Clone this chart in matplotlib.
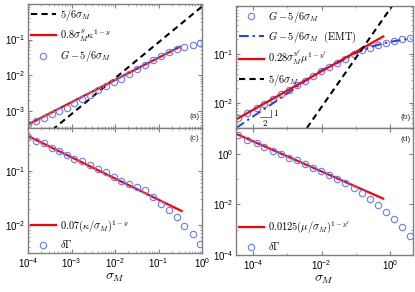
import matplotlib
matplotlib.use("Agg")
import matplotlib.pyplot as plt
from matplotlib.ticker import LogLocator, NullFormatter

plt.rcParams['font.family'] = ['Liberation Sans', 'DejaVu Sans']
plt.rcParams['mathtext.fontset'] = 'cm'

# ---- data ----
# panels (a) and (c): sigma_M sweep
sigma_left = [1.02e-4, 1.51e-4, 2.29e-4, 3.47e-4, 5.25e-4, 7.76e-4, 1.15e-3, 1.78e-3,
              2.69e-3, 4.07e-3, 6.17e-3, 9.33e-3, 1.41e-2, 2.14e-2, 3.24e-2, 4.90e-2,
              7.41e-2, 0.112, 0.170, 0.263, 0.389, 0.617, 0.891]
G_a = [4.27e-4, 5.37e-4, 6.46e-4, 8.13e-4, 1.00e-3, 1.26e-3, 1.66e-3, 2.14e-3,
       2.82e-3, 3.80e-3, 5.13e-3, 6.46e-3, 8.13e-3, 1.12e-2, 1.48e-2, 1.95e-2,
       2.63e-2, 3.55e-2, 4.37e-2, 5.37e-2, 6.31e-2, 7.24e-2, 8.13e-2]
dG_c = [0.423, 0.357, 0.320, 0.265, 0.231, 0.195, 0.164, 0.153, 0.127, 0.106,
        0.0946, 0.0759, 0.0646, 0.0562, 0.0490, 0.0437, 0.0331, 0.0245, 0.0186,
        0.0138, 9.77e-3, 6.92e-3, 4.47e-3]

# panels (b) and (d)
sigma_right = [3.63e-5, 6.46e-5, 1.26e-4, 2.09e-4, 3.72e-4, 6.46e-4, 1.12e-3, 1.86e-3,
               3.24e-3, 5.62e-3, 9.33e-3, 1.62e-2, 2.88e-2, 4.90e-2, 8.91e-2, 0.151,
               0.263, 0.447, 0.759, 1.32, 2.29, 3.80]
G_b = [4.90e-3, 6.17e-3, 7.76e-3, 9.77e-3, 1.20e-2, 1.51e-2, 1.86e-2, 2.34e-2,
       2.88e-2, 3.55e-2, 4.47e-2, 5.50e-2, 6.61e-2, 8.13e-2, 0.100, 0.120,
       0.135, 0.155, 0.170, 0.186, 0.200, 0.209]
dG_d = [5.50, 3.55, 2.63, 1.91, 1.29, 0.955, 0.708, 0.562, 0.380, 0.269, 0.209,
        0.145, 0.100, 0.0676, 0.0457, 0.0275, 0.0162, 9.55e-3, 4.90e-3, 2.57e-3,
        1.23e-3, 5.75e-4]

# EMT curve in (b)
emt_x = [3.16e-5, 1e-4, 3.16e-4, 1e-3, 3.16e-3, 1e-2, 3.16e-2, 0.1, 0.316, 1.0, 4.17]
emt_y = [3.09e-3, 5.37e-3, 9.12e-3, 1.58e-2, 2.75e-2, 4.68e-2, 6.76e-2, 0.105, 0.145, 0.178, 0.209]

# fit lines (end points)
fit_a_x, fit_a_y = [1.0e-4, 0.31], [4.27e-4, 0.063]
fit_b_x, fit_b_y = [3.24e-5, 0.631], [4.68e-3, 0.229]
fit_c_x, fit_c_y = [1.0e-4, 0.34], [0.435, 0.0181]
fit_d_x, fit_d_y = [3.47e-5, 0.631], [5.89, 0.0170]
lin_a_x, lin_a_y = [1e-4, 1.0], [8.33e-5, 0.833]
lin_b_x, lin_b_y = [3.0e-5, 2.0], [2.5e-5, 1.667]

# slope triangle in (b)
tri_x = [1.58e-4, 3.24e-4, 3.24e-4]
tri_y = [5.13e-3, 5.13e-3, 7.24e-3]

circ = dict(ls='none', marker='o', mfc='none', mec='#6a7cf0', ms=4.6, mew=0.8)
red = dict(color='red', lw=1.6)
dash = dict(color='black', lw=1.5, ls=(0, (3, 2)))
spine_c = '#808080'

W, H = 415, 292
fig = plt.figure(figsize=(W / 100, H / 100), dpi=100)


def box(l, t, r, b):
    return [l / W, 1 - b / H, (r - l) / W, (b - t) / H]


ax_a = fig.add_axes(box(28, 4, 202, 128))
ax_c = fig.add_axes(box(28, 128, 202, 253))
ax_b = fig.add_axes(box(236, 6, 413, 128))
ax_d = fig.add_axes(box(236, 128, 413, 255))

# (a)
ax_a.plot(lin_a_x, lin_a_y, label=r'$5/6\sigma_M$', **dash)
ax_a.plot(fit_a_x, fit_a_y, label=r'$0.8\sigma_M^y\kappa^{1-y}$', **red)
ax_a.plot(sigma_left, G_a, label=r'$G-5/6\sigma_M$', **circ)
ax_a.set_ylim(3.4e-4, 0.98)

# (c)
ax_c.plot(fit_c_x, fit_c_y, label=r'$0.07(\kappa/\sigma_M)^{1-y}$', **red)
ax_c.plot(sigma_left, dG_c, label=r'$\delta\Gamma$', **circ)
ax_c.set_ylim(3.05e-3, 0.61)

# (b)
ax_b.plot(sigma_right, G_b, label=r'$G-5/6\sigma_M$', **circ)
ax_b.plot(emt_x, emt_y, color='#1f3cff', lw=1.4, ls=(0, (5, 2, 1.2, 2)),
          label=r'$G-5/6\sigma_M\ \ \mathrm{(EMT)}$')
ax_b.plot(fit_b_x, fit_b_y, label=r"$0.28\sigma_M^{y'}\mu^{1-y'}$", **red)
ax_b.plot(lin_b_x, lin_b_y, label=r'$5/6\sigma_M$', **dash)
ax_b.plot(tri_x, tri_y, color='#555555', lw=0.6)
ax_b.text(4.6e-4, 6.2e-3, r'$1$', fontsize=6.5, ha='center', va='center')
ax_b.text(2.3e-4, 4.0e-3, r'$2$', fontsize=6.5, ha='center', va='center')
ax_b.set_ylim(3.1e-3, 0.96)

# (d)
ax_d.plot(fit_d_x, fit_d_y, label=r"$0.0125(\mu/\sigma_M)^{1-y'}$", **red)
ax_d.plot(sigma_right, dG_d, label=r'$\delta\Gamma$', **circ)
ax_d.set_ylim(1e-4, 10.5)

for ax, tag, ty in [(ax_a, '(a)', 0.09), (ax_c, '(c)', 0.915),
                    (ax_b, '(b)', 0.085), (ax_d, '(d)', 0.91)]:
    ax.set_xscale('log')
    ax.set_yscale('log')
    for s in ax.spines.values():
        s.set_color(spine_c)
        s.set_linewidth(1.0)
    ax.tick_params(which='both', direction='in', top=True, right=True,
                   color=spine_c, labelsize=7, pad=2)
    ax.tick_params(which='major', length=3)
    ax.tick_params(which='minor', length=1.6, width=0.5)
    ax.yaxis.set_minor_formatter(NullFormatter())
    ax.xaxis.set_minor_formatter(NullFormatter())
    ax.text(0.985, ty, tag, transform=ax.transAxes, ha='right', va='center',
            fontsize=6, color='#333333')

for ax in (ax_a, ax_c):
    ax.set_xlim(1e-4, 1.0)
    ax.xaxis.set_major_locator(LogLocator(base=10, numticks=10))
for ax in (ax_b, ax_d):
    ax.set_xlim(3.16e-5, 4.7)
    ax.xaxis.set_major_locator(LogLocator(base=100, numticks=10))
    ax.xaxis.set_minor_locator(LogLocator(base=10, subs=(1.0,), numticks=20))
ax_d.yaxis.set_major_locator(LogLocator(base=100, numticks=10))
ax_d.yaxis.set_minor_locator(LogLocator(base=10, subs=(1.0,), numticks=20))

for ax in (ax_a, ax_b):
    ax.tick_params(axis='x', labelbottom=False)

ax_c.set_xlabel(r'$\sigma_M$', fontsize=10, labelpad=0)
ax_d.set_xlabel(r'$\sigma_M$', fontsize=10, labelpad=0)

leg_kw = dict(frameon=False, fontsize=7.5, handlelength=2.4, handletextpad=0.4,
              borderaxespad=0.15, borderpad=0.1)
ax_a.legend(loc='upper left', labelspacing=0.45, **leg_kw)
ax_b.legend(loc='upper left', labelspacing=0.45, **leg_kw)
ax_c.legend(loc='lower left', labelspacing=0.45, **leg_kw)
ax_d.legend(loc='lower left', labelspacing=0.45, **leg_kw)

fig.savefig('out.png', dpi=100)
